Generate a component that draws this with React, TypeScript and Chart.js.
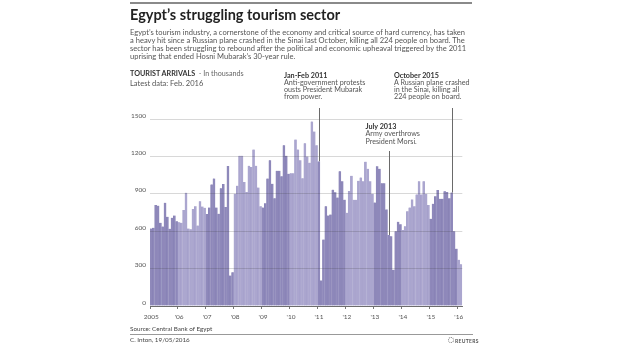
import React, { useEffect, useRef } from 'react';
import { Chart, registerables } from 'chart.js';

Chart.register(...registerables);

// ---- data (tourist arrivals, thousands, monthly) ----
const years = ['2005', '2006', '2007', '2008', '2009', '2010', '2011', '2012', '2013', '2014', '2015', '2016'];
const yearLabels = ['2005', "'06", "'07", "'08", "'09", "'10", "'11", "'12", "'13", "'14", "'15", "'16"];
const arrivals2005 = [622, 628, 810, 805, 668, 638, 828, 716, 620, 708, 726, 680];
const arrivals2006 = [671, 668, 770, 908, 622, 615, 778, 800, 645, 840, 798, 788];
const arrivals2007 = [738, 790, 975, 1022, 790, 740, 945, 978, 795, 1122, 245, 270];
const arrivals2008 = [900, 965, 1205, 1205, 995, 915, 1125, 1115, 1255, 1125, 950, 800];
const arrivals2009 = [790, 825, 1022, 1170, 980, 865, 1085, 1085, 1040, 1290, 1205, 1060];
const arrivals2010 = [1065, 1065, 1335, 1255, 1170, 1025, 1305, 1200, 1150, 1480, 1400, 1290];
const arrivals2011 = [1160, 205, 533, 800, 725, 733, 933, 912, 870, 1080, 1000, 853];
const arrivals2012 = [748, 922, 1044, 852, 852, 1005, 1030, 1000, 1158, 1100, 1000, 900];
const arrivals2013 = [830, 1120, 1100, 985, 985, 775, 570, 560, 290, 600, 675, 655];
const arrivals2014 = [610, 640, 760, 790, 855, 800, 895, 1000, 895, 1000, 900, 810];
const arrivals2015 = [700, 820, 880, 930, 860, 860, 920, 915, 865, 910, 600, 460];
const arrivals2016 = [370, 335];
const yTicks = [0, 300, 600, 900, 1200, 1500];

const byYear = [arrivals2005, arrivals2006, arrivals2007, arrivals2008, arrivals2009, arrivals2010,
  arrivals2011, arrivals2012, arrivals2013, arrivals2014, arrivals2015, arrivals2016];

const categories: string[] = [];
const values: number[] = [];
const yearIdx: number[] = [];
byYear.forEach((arr, yi) => {
  arr.forEach((v, m) => {
    categories.push(`${years[yi]}-${String(m + 1).padStart(2, '0')}`);
    values.push(v);
    yearIdx.push(yi);
  });
});

const DARK = '#8e88ba';
const LIGHT = '#aba6cf';
const DARK_EDGE = '#847eb2';
const LIGHT_EDGE = '#a09bc7';
const FONT = 'Lato';

const annotations = [
  { key: '2011-01', top: 108 },
  { key: '2013-07', top: 151 },
  { key: '2015-10', top: 108 },
];

const annLinesPlugin = {
  id: 'annLines',
  afterDraw(chart: any) {
    const { ctx, scales } = chart;
    const x = scales.x, y = scales.y;
    ctx.save();
    ctx.strokeStyle = '#6a6a6a';
    ctx.lineWidth = 1;
    annotations.forEach((a) => {
      const idx = categories.indexOf(a.key);
      const px = Math.round(x.getPixelForValue(idx)) + 0.5;
      const py = y.getPixelForValue(values[idx]);
      ctx.beginPath();
      ctx.moveTo(px, a.top);
      ctx.lineTo(px, py);
      ctx.stroke();
    });
    ctx.restore();
  },
};

function T(props: { x: number; base: number; size: number; bold?: boolean; color?: string; children: any; ls?: number }) {
  const { x, base, size, bold, color, children, ls } = props;
  return (
    <div
      style={{
        position: 'absolute',
        left: x,
        top: base - 0.987 * size,
        fontSize: size,
        lineHeight: `${size * 1.2}px`,
        fontWeight: bold ? 700 : 400,
        color: color || '#555',
        whiteSpace: 'nowrap',
        fontFamily: FONT,
        letterSpacing: ls ? `${ls}px` : undefined,
      }}
    >
      {children}
    </div>
  );
}

export default function App() {
  const canvasRef = useRef<HTMLCanvasElement | null>(null);

  useEffect(() => {
    const canvas = canvasRef.current;
    if (!canvas) return;
    const chart = new Chart(canvas, {
      type: 'bar',
      data: {
        labels: categories,
        datasets: [
          {
            data: values,
            backgroundColor: yearIdx.map((yi) => (yi % 2 === 0 ? DARK : LIGHT)),
            borderColor: yearIdx.map((yi) => (yi % 2 === 0 ? DARK_EDGE : LIGHT_EDGE)),
            borderWidth: { left: 0.5, right: 0, top: 0, bottom: 0 },
            borderSkipped: false,
            barPercentage: 1,
            categoryPercentage: 1,
          },
        ],
      },
      options: {
        responsive: false,
        animation: false,
        devicePixelRatio: 1,
        layout: { padding: { left: 0, right: 620 - 462.3, top: 119, bottom: 0 } },
        plugins: { legend: { display: false }, tooltip: { enabled: false } },
        scales: {
          x: {
            type: 'category',
            offset: true,
            grid: {
              display: true,
              offset: true,
              drawOnChartArea: false,
              drawTicks: true,
              tickLength: 3,
              color: (c: any) => (c.index !== undefined && c.type === 'tick' && c.index % 12 === 0 ? '#777' : 'rgba(0,0,0,0)'),
              lineWidth: 1,
            },
            border: { display: true, color: '#7a7a7a', width: 1 },
            ticks: {
              autoSkip: false,
              maxRotation: 0,
              minRotation: 0,
              padding: 4,
              color: '#555',
              font: { family: FONT, size: 6.5 },
              callback: (_v: any, i: number) => (i % 12 === 0 ? yearLabels[i / 12] : ''),
            },
            afterFit: (s: any) => {
              s.height = 355 - 306;
            },
          },
          y: {
            min: 0,
            max: 1500,
            afterBuildTicks: (s: any) => {
              s.ticks = yTicks.map((v) => ({ value: v }));
            },
            grid: { color: 'rgba(60,60,60,0.2)', drawTicks: false, z: 1, lineWidth: 1 },
            border: { display: false },
            ticks: {
              padding: 4,
              labelOffset: -3.5,
              color: '#555',
              font: { family: FONT, size: 6.5 },
              callback: (v: any) => String(v),
            },
            afterFit: (s: any) => {
              s.width = 150;
            },
          },
        },
      },
      plugins: [annLinesPlugin],
    } as any);
    return () => chart.destroy();
  }, []);

  return (
    <div style={{ position: 'absolute', left: 0, top: 0, width: 620, height: 355, background: '#fff', overflow: 'hidden', fontFamily: FONT }}>
      <canvas ref={canvasRef} width={620} height={355} style={{ position: 'absolute', left: 0, top: 0, width: 620, height: 355 }} />
      <div style={{ position: 'absolute', left: 130, top: 2, width: 342, height: 1.5, background: '#8a8a8a' }} />
      <T x={130} base={20} size={14.5} bold color="#222">Egypt’s struggling tourism sector</T>
      <T x={130} base={35} size={7.55}>Egypt’s tourism industry, a cornerstone of the economy and critical source of hard currency, has taken</T>
      <T x={130} base={43.2} size={7.55}>a heavy hit since a Russian plane crashed in the Sinai last October, killing all 224 people on board. The</T>
      <T x={130} base={51.4} size={7.55}>sector has been struggling to rebound after the political and economic upheaval triggered by the 2011</T>
      <T x={130} base={59.6} size={7.55}>uprising that ended Hosni Mubarak’s 30-year rule.</T>

      <T x={130} base={77.5} size={7.2} bold color="#333">
        TOURIST ARRIVALS <span style={{ fontWeight: 400, color: '#666' }}>&nbsp;- In thousands</span>
      </T>
      <T x={130} base={86} size={7.5}>Latest data: Feb. 2016</T>

      <T x={284} base={79} size={7.2} bold color="#333">Jan-Feb 2011</T>
      <T x={284} base={86.2} size={7.2}>Anti-government protests</T>
      <T x={284} base={93.4} size={7.2}>ousts President Mubarak</T>
      <T x={284} base={100.6} size={7.2}>from power.</T>

      <T x={394} base={79} size={7.2} bold color="#333">October 2015</T>
      <T x={394} base={86.2} size={7.2}>A Russian plane crashed</T>
      <T x={394} base={93.4} size={7.2}>in the Sinai, killing all</T>
      <T x={394} base={100.6} size={7.2}>224 people on board.</T>

      <T x={365.5} base={130.2} size={7.2} bold color="#333">July 2013</T>
      <T x={365.5} base={137.6} size={7.2}>Army overthrows</T>
      <T x={365.5} base={145} size={7.2}>President Morsi.</T>

      <T x={130} base={331} size={6.3} color="#444">Source: Central Bank of Egypt</T>
      <div style={{ position: 'absolute', left: 130, top: 333.5, width: 343, height: 1, background: '#999' }} />
      <T x={130} base={342.5} size={6.3} color="#444">C. Inton, 19/05/2016</T>
      <div style={{ position: 'absolute', left: 448, top: 337, width: 4, height: 4, borderRadius: '50%', border: '1px dotted #777' }} />
      <T x={455} base={342.5} size={5} bold color="#555" ls={0.3}>REUTERS</T>
    </div>
  );
}
